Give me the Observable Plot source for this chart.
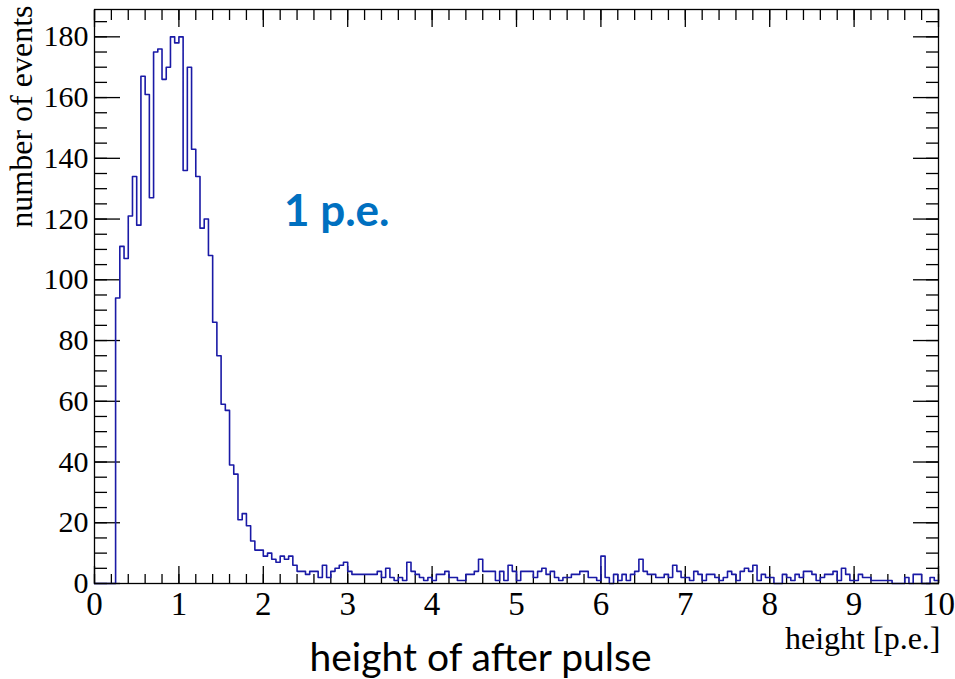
<!DOCTYPE html>
<html>
<head>
<meta charset="utf-8">
<script src="https://cdn.jsdelivr.net/npm/d3@7"></script>
<script src="https://cdn.jsdelivr.net/npm/@observablehq/plot@0.6"></script>
<style>
  html, body { margin: 0; padding: 0; background: #fff; }
  #chart svg { display: block; }
</style>
</head>
<body>
<div id="chart"></div>
<script>
// ---- histogram data (bins of width 0.05 starting at 0) ----
const binStart = 0;
const binWidth = 0.05;
const counts = [
  // 0.00 - 0.95
  0, 0, 0, 0, 0, 94, 111, 107, 121, 134, 118, 167, 161, 127, 175, 176, 166, 170, 180, 178,
  // 1.00 - 1.95
  180, 136, 170, 143, 134, 117, 120, 108, 86, 75, 59, 57, 39, 36, 21, 23, 19, 14, 11, 11,
  // 2.00 - 2.95
  9, 10, 8, 7, 9, 8, 9, 6, 4, 4, 3, 4, 4, 2, 6, 2, 4, 5, 6, 7,
  // 3.00 - 3.95
  4, 3, 3, 3, 3, 3, 3, 4, 2, 5, 2, 1, 2, 1, 7, 4, 3, 2, 1, 2,
  // 4.00 - 4.95
  1, 3, 3, 4, 2, 2, 1, 1, 3, 3, 4, 8, 4, 4, 4, 1, 4, 1, 6, 4,
  // 5.00 - 5.95
  1, 4, 4, 4, 2, 4, 5, 3, 4, 2, 1, 2, 2, 3, 3, 4, 4, 2, 2, 1,
  // 6.00 - 6.95
  9, 2, 0, 3, 1, 3, 1, 3, 4, 8, 4, 3, 3, 2, 2, 3, 2, 6, 4, 2,
  // 7.00 - 7.95
  2, 1, 4, 3, 1, 3, 3, 2, 1, 2, 4, 3, 1, 4, 5, 4, 6, 1, 3, 2,
  // 8.00 - 8.95
  2, 0, 0, 3, 2, 1, 3, 2, 4, 4, 3, 1, 2, 3, 3, 4, 1, 5, 3, 1,
  // 9.00 - 9.95
  1, 3, 2, 2, 1, 1, 1, 1, 1, 0, 0, 0, 2, 0, 3, 3, 0, 0, 2, 1
];

// ---- axes ----
const xDomain = [0, 10];
const yDomain = [0, 189];
const xTickLabels = [0, 1, 2, 3, 4, 5, 6, 7, 8, 9, 10];
const yTickLabels = [0, 20, 40, 60, 80, 100, 120, 140, 160, 180];
const xMinorStep = 0.2;
const yMinorStep = 5;
const xTitle = "height [p.e.]";
const yTitle = "number of events";
const caption = "height of after pulse";
const annotations = [{x: 2.87, y: 122.5, label: "1 p.e."}];

// ---- build mark data ----
const xMinorTicks = d3.range(0, 50 + 1).map(i => +(i * xMinorStep).toFixed(2));
const yMinorTicks = d3.range(0, 37 + 1).map(i => i * yMinorStep);
const steps = counts.map((c, i) => ({x: binStart + i * binWidth, y: c}));
steps.push({x: binStart + counts.length * binWidth, y: counts[counts.length - 1]});

const ink = "#000";
const lineColor = "#1a1aa6";

const tickAxis = (fn, data, anchor, size) =>
  fn(data, {anchor, tickSize: -size, fill: "none", label: null, stroke: ink, strokeWidth: 1.3});

const chart = Plot.plot({
  width: 955,
  height: 679,
  marginLeft: 94,
  marginRight: 17,
  marginTop: 9,
  marginBottom: 96,
  x: {domain: xDomain},
  y: {domain: yDomain},
  style: {fontFamily: "'Liberation Serif', 'Times New Roman', serif", fontSize: "30px", background: "#fff", color: "#000", overflow: "visible"},
  marks: [
    // inward ticks on all four sides (ROOT style)
    tickAxis(Plot.axisX, xMinorTicks, "bottom", 9),
    tickAxis(Plot.axisX, xTickLabels, "bottom", 17),
    tickAxis(Plot.axisX, xMinorTicks, "top", 10),
    tickAxis(Plot.axisX, xTickLabels, "top", 17),
    tickAxis(Plot.axisY, yMinorTicks, "left", 13),
    tickAxis(Plot.axisY, yTickLabels, "left", 26),
    tickAxis(Plot.axisY, yMinorTicks, "right", 13),
    tickAxis(Plot.axisY, yTickLabels, "right", 26),
    // tick labels
    Plot.axisX(xTickLabels, {anchor: "bottom", tickSize: 0, tickPadding: 8, fontSize: 33, label: null, fill: ink}),
    Plot.axisY(yTickLabels, {anchor: "left", tickSize: 0, tickPadding: 6, fontSize: 30, label: null, fill: ink}),
    // axis titles
    Plot.text([xTitle], {text: d => d, frameAnchor: "bottom-right", textAnchor: "end", lineAnchor: "middle", dx: 2, dy: 55, fontSize: 32, fill: ink}),
    Plot.text([yTitle], {text: d => d, frameAnchor: "top-left", textAnchor: "end", lineAnchor: "middle", rotate: -90, dx: -73, dy: -4, fontSize: 32, fill: ink}),
    // histogram outline
    Plot.line(steps, {x: "x", y: "y", curve: "step-after", stroke: lineColor, strokeWidth: 1.6}),
    // annotation
    Plot.text(annotations, {x: "x", y: "y", text: "label", fontFamily: "Lato, 'Open Sans', sans-serif", fontWeight: "bold", fontSize: 44, fill: "#0070c0", textAnchor: "middle", lineAnchor: "middle"}),
    // caption
    Plot.text([caption], {text: d => d, frameAnchor: "bottom", dx: -36, dy: 75, lineAnchor: "middle", fontFamily: "Lato, 'Open Sans', sans-serif", fontSize: 39, fill: ink}),
    Plot.frame({stroke: ink, strokeWidth: 1.3})
  ]
});
document.getElementById("chart").appendChild(chart);
</script>
</body>
</html>
